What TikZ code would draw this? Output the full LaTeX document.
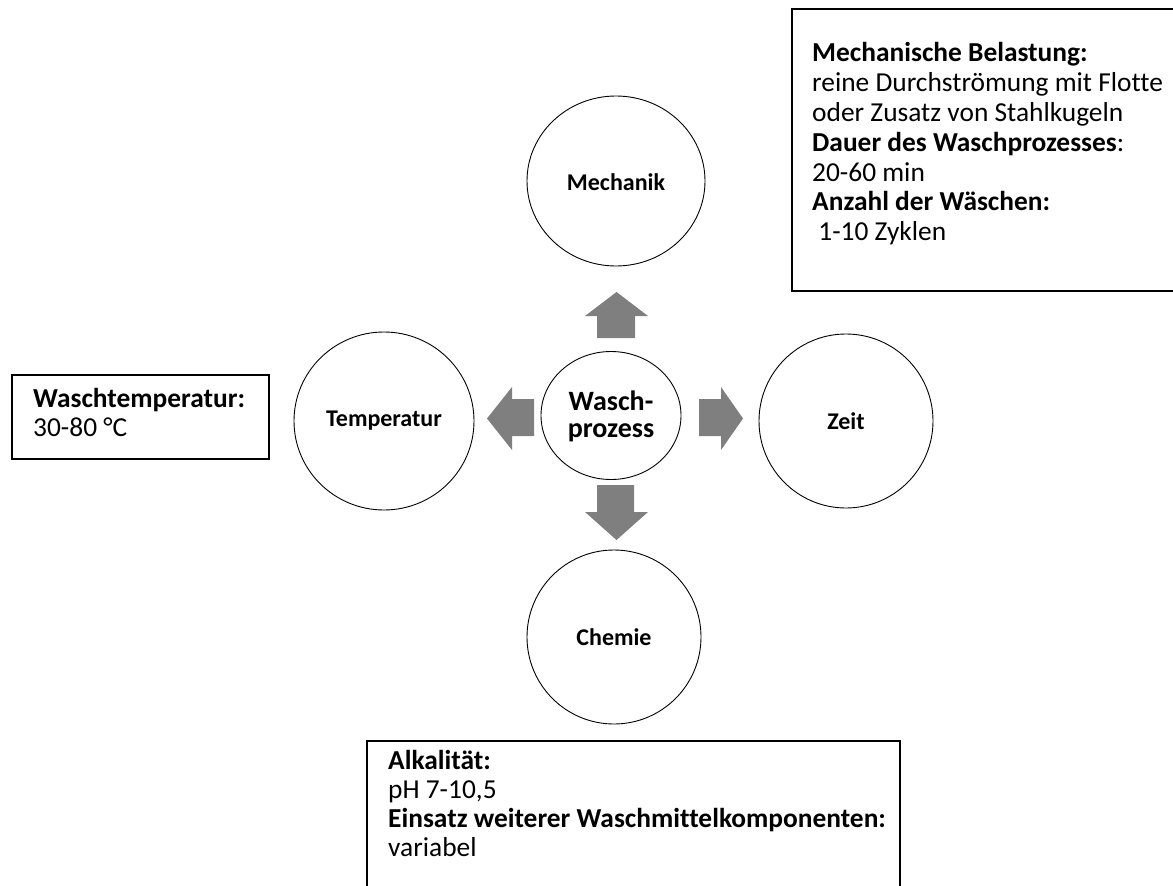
\documentclass[tikz,border=0pt]{standalone}
\usepackage{fontspec}
\setmainfont[Ligatures=NoCommon]{Carlito}
\begin{document}
\begin{tikzpicture}[x=1pt,y=-1pt,
  lbl/.style={inner sep=0pt,font=\fontsize{24}{28}\selectfont\bfseries},
  ring/.style={draw=black,line width=0.9pt},
  infobox/.style={draw=black,line width=1.3pt},
  line/.style={anchor=base west,inner sep=0pt,font=\fontsize{27.4}{30}\selectfont},
  bline/.style={line,font=\fontsize{27.4}{30}\selectfont\bfseries},
  wline/.style={anchor=base,inner sep=0pt,font=\fontsize{28}{30}\selectfont\bfseries},
  blockarrow/.style={fill=arrowgray,draw=none}]
\definecolor{arrowgray}{HTML}{7F7F7F}
\useasboundingbox (0,0) rectangle (1173,886);
% circles
\draw[ring] (616,181) ellipse [x radius=89, y radius=85];
\node[lbl] (mech) at (616,182) {Mechanik};
\draw[ring] (384,421) ellipse [x radius=90, y radius=89];
\node[lbl] (temp) at (384,421) {Temperatur};
\draw[ring] (846,421) ellipse [x radius=87, y radius=87];
\node[lbl] (zeit) at (846,421) {Zeit};
\draw[ring] (614,637) ellipse [x radius=87, y radius=87];
\node[lbl] (chem) at (614,637) {Chemie};
\draw[ring] (611,415.5) ellipse [x radius=70, y radius=64];
\node[wline] (w1) at (611,410) {Wasch-};
\node[wline] (w2) at (611,437) {prozess};
% block arrows
\fill[blockarrow] (597,338) -- (597,316) -- (585,316) -- (616.5,292) -- (648,316) -- (635,316) -- (635,338) -- cycle;
\fill[blockarrow] (597,485) -- (597,512) -- (585,512) -- (616.5,540) -- (648,512) -- (634,512) -- (634,485) -- cycle;
\fill[blockarrow] (534,399) -- (512,399) -- (512,387) -- (487,418.5) -- (512,450) -- (512,436) -- (534,436) -- cycle;
\fill[blockarrow] (699,399) -- (721,399) -- (721,387) -- (743,418.5) -- (721,450) -- (721,436) -- (699,436) -- cycle;
% info boxes
\draw[infobox] (1180,9) -- (792,9) -- (792,291) -- (1180,291);
\node[bline] (m1) at (812,61) {Mechanische Belastung:};
\node[line] (m2) at (812,91) {reine Durchströmung mit Flotte};
\node[line] (m3) at (812,121) {oder Zusatz von Stahlkugeln};
\node[line] (m4) at (812,151) {\textbf{Dauer des Waschprozesses}:};
\node[line] (m5) at (812,181) {20-60 min};
\node[bline] (m6) at (812,210) {Anzahl der Wäschen:};
\node[line] (m7) at (812,240) {\ 1-10 Zyklen};
\draw[infobox] (12,375) rectangle (269,459);
\node[bline] (t1) at (33,407) {Waschtemperatur:};
\node[line] (t2) at (33,436) {30-80 °C};
\draw[infobox] (367,890) -- (367,741) -- (900,741) -- (900,890);
\node[bline] (c1) at (388,769) {Alkalität:};
\node[line] (c2) at (388,798) {pH 7-10,5};
\node[bline] (c3) at (388,827) {Einsatz weiterer Waschmittelkomponenten:};
\node[line] (c4) at (388,856) {variabel};
\end{tikzpicture}
\end{document}
